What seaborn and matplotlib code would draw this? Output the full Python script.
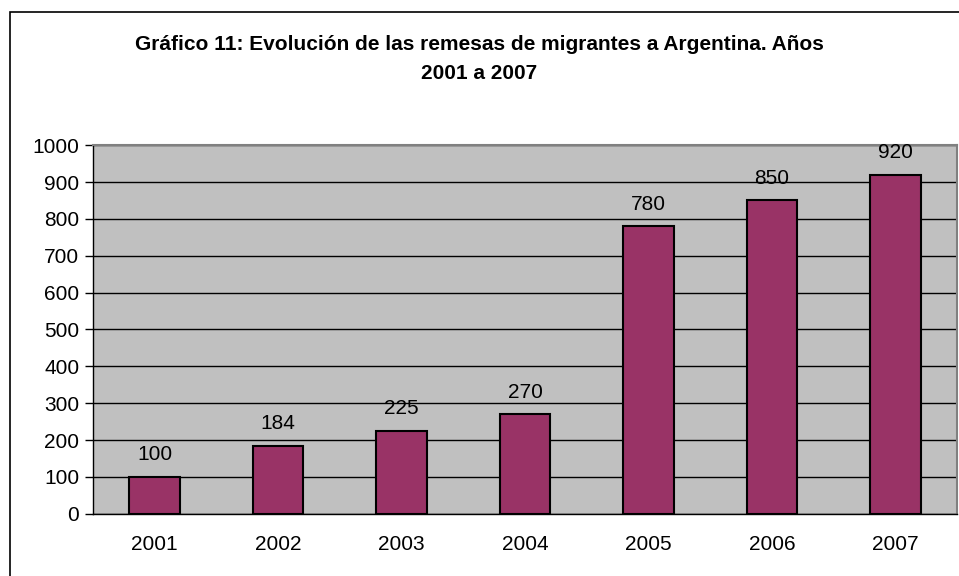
import numpy as np
import pandas as pd
import seaborn as sns
from matplotlib import pyplot as plt
from matplotlib.patches import Rectangle

years = ["2001", "2002", "2003", "2004", "2005", "2006", "2007"]
remesas = [100, 184, 225, 270, 780, 850, 920]
title = "Gráfico 11: Evolución de las remesas de migrantes a Argentina. Años\n2001 a 2007"

df = pd.DataFrame({"year": years, "remesas": remesas})

sns.set_style("white")
plt.rcParams["font.family"] = ["Liberation Sans", "DejaVu Sans"]
plt.rcParams["text.color"] = "black"
plt.rcParams["xtick.color"] = "black"
plt.rcParams["ytick.color"] = "black"

fig = plt.figure(figsize=(9.59, 5.76), dpi=100)
ax = fig.add_axes([0.097, 0.108, 0.901, 0.64])
ax.set_facecolor("#c0c0c0")

sns.barplot(data=df, x="year", y="remesas", color="#993366", width=0.41,
            edgecolor="black", linewidth=1.5, saturation=1, ax=ax, zorder=3)

ax.set_ylim(0, 1000)
ax.set_xlim(-0.5, 6.5)
ax.set_yticks(np.arange(0, 1001, 100))
ax.grid(axis="y", color="black", linewidth=1, zorder=0)
ax.set_axisbelow(True)
ax.set_xlabel("")
ax.set_ylabel("")

ax.set_xticks(np.arange(-0.5, 7, 1), minor=True)
ax.tick_params(axis="x", which="major", length=0, pad=15, labelsize=15, labelcolor="black")
ax.tick_params(axis="x", which="minor", length=5, width=1, color="black", direction="out")
ax.tick_params(axis="y", length=6, width=1, color="black", direction="out", labelsize=15,
               left=True, labelcolor="black", pad=4)

for side in ["top", "right"]:
    ax.spines[side].set_color("#808080")
    ax.spines[side].set_linewidth(1.5)
for side in ["left", "bottom"]:
    ax.spines[side].set_color("black")
    ax.spines[side].set_linewidth(1)

ax.bar_label(ax.containers[0], labels=[str(v) for v in remesas], padding=9, fontsize=15,
             color="black")

fig.text(0.5, 0.897, title, ha="center", va="center", fontsize=15,
         fontweight="bold", linespacing=1.65, color="black")

border = Rectangle((10 / 959, -0.05), 1.0, 1 - 12 / 576 + 0.05, transform=fig.transFigure,
                   fill=False, edgecolor="black", linewidth=1.2, clip_on=False)
fig.patches.append(border)

plt.savefig("out.png", dpi=100)
plt.close()
